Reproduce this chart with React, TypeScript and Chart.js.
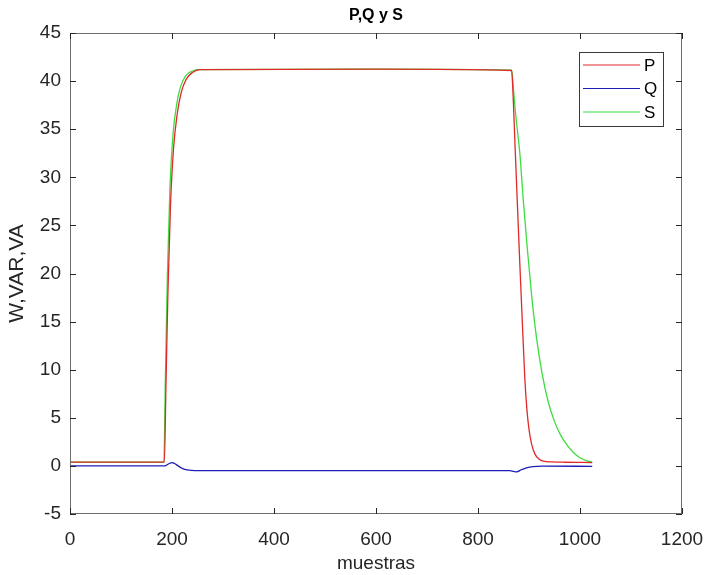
import React, { useEffect, useRef } from "react";
import { Chart, registerables } from "chart.js";

Chart.register(...registerables);

// ---- Data ----
const seriesNames = ["P", "Q", "S"];

const pSamples = [0, 185, 188, 192, 197, 203, 210, 218, 228, 240, 255, 600, 866, 868, 870, 873, 877, 882, 887, 892, 896, 900, 905, 912, 920, 928, 945, 970, 1024];
const pValues = [0.4, 0.4, 8, 18, 27, 33, 36.5, 38.8, 40.2, 40.9, 41.2, 41.25, 41.1, 39.5, 37, 32.8, 27.5, 21, 14.8, 8.9, 5.8, 3.8, 2.3, 1.2, 0.7, 0.5, 0.42, 0.38, 0.35];

const qSamples = [0, 186, 193, 200, 205, 212, 220, 230, 245, 500, 862, 870, 876, 885, 895, 908, 925, 1024];
const qValues = [0, 0, 0.2, 0.35, 0.25, 0, -0.25, -0.42, -0.5, -0.5, -0.5, -0.58, -0.62, -0.4, -0.2, -0.07, -0.02, -0.05];

const sSamples = [0, 184, 187, 191, 196, 202, 209, 216, 226, 238, 252, 600, 866, 869, 873, 877, 882, 889, 896, 905, 915, 925, 937, 950, 962, 974, 987, 1000, 1012, 1024];
const sValues = [0.4, 0.4, 9, 20, 29, 34.5, 37.5, 39.3, 40.5, 41.0, 41.2, 41.25, 41.15, 39.5, 37, 35, 32.5, 27.5, 23, 17.8, 13.2, 9.8, 6.8, 4.6, 3.2, 2.2, 1.4, 0.85, 0.55, 0.4];

const xTicks = [0, 200, 400, 600, 800, 1000, 1200];
const yTicks = [-5, 0, 5, 10, 15, 20, 25, 30, 35, 40, 45];

const titleText = "P,Q y S";
const xLabel = "muestras";
const yLabel = "W,VAR,VA";

const seriesColors = ["#e02a2a", "#1f1fb8", "#3fdc3f"];

const FONT = "'Liberation Sans', Arial, Helvetica, sans-serif";
const TEXT = "#262626";

function toPoints(xs: number[], ys: number[]) {
  return xs.map((x, i) => ({ x, y: ys[i] }));
}

const matlabPlugin = {
  id: "matlabDecor",
  afterDatasetsDraw(chart: any) {
    const { ctx, chartArea } = chart;
    const { left, right, top, bottom } = chartArea;
    const xs = chart.scales.x;
    const ys = chart.scales.y;
    ctx.save();
    // box
    ctx.strokeStyle = "#6e6e6e";
    ctx.lineWidth = 1;
    ctx.strokeRect(left + 0.5, top + 0.5, right - left - 1, bottom - top - 1);
    // inward ticks on all four sides
    ctx.strokeStyle = "#262626";
    ctx.beginPath();
    const tl = 6;
    xTicks.forEach((v) => {
      const px = Math.round(xs.getPixelForValue(v)) + 0.5;
      ctx.moveTo(px, bottom);
      ctx.lineTo(px, bottom - tl);
      ctx.moveTo(px, top);
      ctx.lineTo(px, top + tl);
    });
    yTicks.forEach((v) => {
      const py = Math.round(ys.getPixelForValue(v)) + 0.5;
      ctx.moveTo(left, py);
      ctx.lineTo(left + tl, py);
      ctx.moveTo(right, py);
      ctx.lineTo(right - tl, py);
    });
    ctx.stroke();

    // legend
    const lx = right - 103;
    const ly = top + 19;
    const lw = 84;
    const lh = 74;
    ctx.fillStyle = "#ffffff";
    ctx.fillRect(lx, ly, lw, lh);
    ctx.strokeStyle = "#3a3a3a";
    ctx.lineWidth = 1;
    ctx.strokeRect(lx + 0.5, ly + 0.5, lw, lh);
    ctx.font = `17px ${FONT}`;
    ctx.textBaseline = "middle";
    ctx.textAlign = "left";
    chart.data.datasets.forEach((ds: any, i: number) => {
      const rowY = ly + 13 + i * 23.5;
      ctx.strokeStyle = ds.borderColor;
      ctx.lineWidth = 1.2;
      ctx.beginPath();
      ctx.moveTo(lx + 4, rowY);
      ctx.lineTo(lx + 61, rowY);
      ctx.stroke();
      ctx.fillStyle = "#000000";
      ctx.fillText(ds.label, lx + 65, rowY + 1);
    });

    // title
    ctx.font = `bold 16px ${FONT}`;
    ctx.fillStyle = "#000000";
    ctx.textAlign = "center";
    ctx.textBaseline = "middle";
    ctx.fillText(titleText, (left + right) / 2, 16);
    ctx.restore();
  },
};

export default function App() {
  const canvasRef = useRef<HTMLCanvasElement | null>(null);

  useEffect(() => {
    const canvas = canvasRef.current;
    if (!canvas) return;
    const chart = new Chart(canvas, {
      type: "line",
      data: {
        datasets: [
          { label: seriesNames[0], data: toPoints(pSamples, pValues), borderColor: seriesColors[0] },
          { label: seriesNames[1], data: toPoints(qSamples, qValues), borderColor: seriesColors[1] },
          { label: seriesNames[2], data: toPoints(sSamples, sValues), borderColor: seriesColors[2] },
        ].map((d) => ({
          ...d,
          borderWidth: 1.3,
          pointRadius: 0,
          fill: false,
          cubicInterpolationMode: "monotone" as const,
        })),
      },
      options: {
        animation: false,
        responsive: false,
        maintainAspectRatio: false,
        layout: { padding: { left: 5, right: 23, top: 33, bottom: 0 } },
        plugins: {
          legend: { display: false },
          tooltip: { enabled: false },
          title: { display: false },
        },
        scales: {
          x: {
            type: "linear",
            min: 0,
            max: 1200,
            afterBuildTicks: (scale: any) => {
              scale.ticks = xTicks.map((v) => ({ value: v }));
            },
            afterFit: (scale: any) => {
              scale.height = 61;
              scale.paddingLeft = 0;
              scale.paddingRight = 0;
            },
            grid: { display: false, drawTicks: false },
            border: { display: false },
            ticks: {
              font: { size: 19, family: FONT },
              color: TEXT,
              padding: 14,
              maxRotation: 0,
              autoSkip: false,
              callback: (v: any) => String(v),
            },
            title: {
              display: true,
              text: xLabel,
              font: { size: 19, family: FONT },
              color: TEXT,
              padding: 0,
            },
          },
          y: {
            type: "linear",
            min: -5,
            max: 45,
            afterBuildTicks: (scale: any) => {
              scale.ticks = yTicks.map((v) => ({ value: v }));
            },
            afterFit: (scale: any) => {
              scale.width = 65;
              scale.paddingTop = 0;
              scale.paddingBottom = 0;
            },
            grid: { display: false, drawTicks: false },
            border: { display: false },
            ticks: {
              font: { size: 19, family: FONT },
              color: TEXT,
              padding: 9,
              autoSkip: false,
              callback: (v: any) => String(v),
            },
            title: {
              display: true,
              text: yLabel,
              font: { size: 21, family: FONT },
              color: TEXT,
              padding: 0,
            },
          },
        },
      },
      plugins: [matlabPlugin],
    });
    return () => chart.destroy();
  }, []);

  return (
    <div style={{ position: "fixed", left: 0, top: 0, width: 705, height: 575, background: "#ffffff" }}>
      <canvas ref={canvasRef} width={705} height={575} style={{ display: "block", width: 705, height: 575 }} />
    </div>
  );
}
